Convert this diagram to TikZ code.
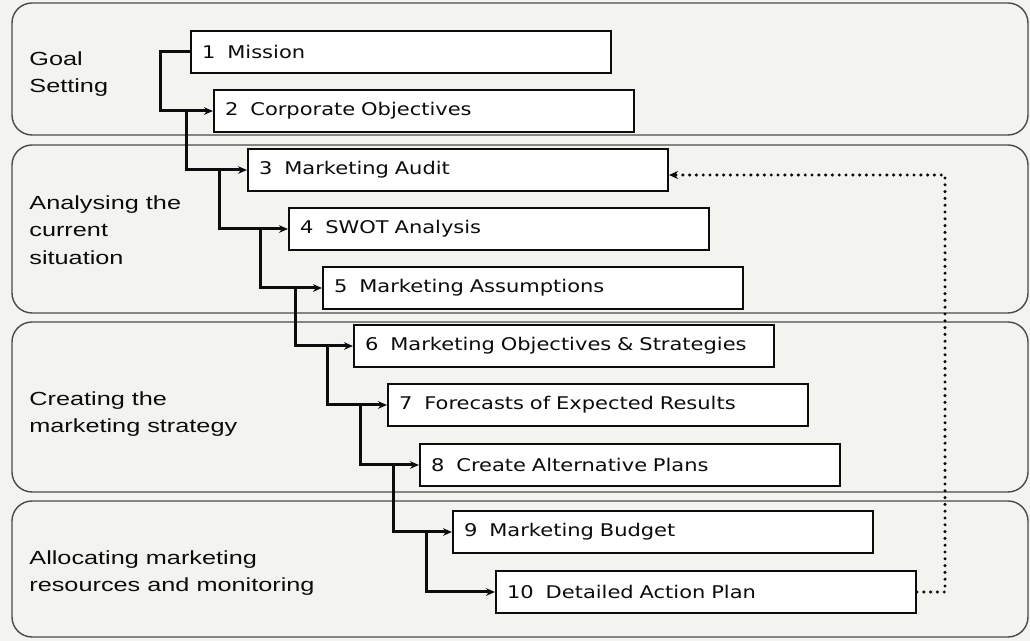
\documentclass[tikz,border=0pt]{standalone}
\usepackage{fontspec}
\setmainfont{Liberation Sans}
\newfontfamily\boxfont{DejaVu Sans}[FakeStretch=1.2]
\newfontfamily\bandfont{Liberation Sans}[FakeStretch=1.33]
\usetikzlibrary{calc,arrows.meta}

\definecolor{paper}{RGB}{243,243,240}
\definecolor{ink}{RGB}{12,12,12}
\definecolor{bandline}{RGB}{75,75,75}
\newcommand\numgap{\hspace{6pt}}

\begin{document}
\begin{tikzpicture}[x=0.5pt,y=-0.5pt,
  band/.style={draw=bandline, line width=0.7pt, rounded corners=10pt},
  stepbox/.style={draw=ink, line width=1pt, fill=white, anchor=north west,
    minimum width=210pt, minimum height=21pt, text width=199pt,
    inner xsep=5.5pt, inner ysep=0pt, align=left,
    font=\boxfont\fontsize{8.75}{10}\selectfont, text=ink},
  bandlabel/.style={anchor=west, align=left, inner sep=0pt,
    font=\bandfont\fontsize{9.5}{13.75}\selectfont, text=ink},
  conn/.style={draw=ink, line width=1.5pt, -{Stealth[length=4.5pt,width=3.8pt]}},
  feedback/.style={draw=ink, line width=1.7pt, line cap=round,
    dash pattern=on 0pt off 3.4pt, -{Stealth[length=4.5pt,width=4pt,open]}}]

% page and background
\fill[paper] (0,0) rectangle (1030,641);
\useasboundingbox (0,0) rectangle (1030,641);

% phase bands
\draw[band] (12,3)   rectangle (1028,135);
\draw[band] (12,145) rectangle (1028,313);
\draw[band] (12,322) rectangle (1028,492);
\draw[band] (12,501) rectangle (1028,637);

% phase labels
\node[bandlabel] (p1) at (29,74)  {Goal\\Setting};
\node[bandlabel] (p2) at (29,230) {Analysing the\\current\\situation};
\node[bandlabel] (p3) at (29,414) {Creating the\\marketing strategy};
\node[bandlabel] (p4) at (29,573) {Allocating marketing\\resources and monitoring};

% planning steps
\node[stepbox] (b1)  at (190,30)  {1\numgap Mission};
\node[stepbox] (b2)  at (213,89)  {2\numgap Corporate Objectives};
\node[stepbox] (b3)  at (247,148) {3\numgap Marketing Audit};
\node[stepbox] (b4)  at (288,207) {4\numgap SWOT Analysis};
\node[stepbox] (b5)  at (322,266) {5\numgap Marketing Assumptions};
\node[stepbox] (b6)  at (353,324) {6\numgap Marketing Objectives \& Strategies};
\node[stepbox] (b7)  at (387,383) {7\numgap Forecasts of Expected Results};
\node[stepbox] (b8)  at (419,443) {8\numgap Create Alternative Plans};
\node[stepbox] (b9)  at (452,510) {9\numgap Marketing Budget};
\node[stepbox] (b10) at (495,570) {10\numgap Detailed Action Plan};

% branch points on each incoming arrow
\coordinate (j2) at ($(b2.west)+(-27,0)$);
\coordinate (j3) at ($(b3.west)+(-28,0)$);
\coordinate (j4) at ($(b4.west)+(-28,0)$);
\coordinate (j5) at ($(b5.west)+(-27,0)$);
\coordinate (j6) at ($(b6.west)+(-26,0)$);
\coordinate (j7) at ($(b7.west)+(-27,0)$);
\coordinate (j8) at ($(b8.west)+(-26,0)$);
\coordinate (j9) at ($(b9.west)+(-26,0)$);

% step-to-step connectors
\draw[conn] (b1.west) -- ++(-30,0) |- (b2.west);
\draw[conn] (j2) |- (b3.west);
\draw[conn] (j3) |- (b4.west);
\draw[conn] (j4) |- (b5.west);
\draw[conn] (j5) |- (b6.west);
\draw[conn] (j6) |- (b7.west);
\draw[conn] (j7) |- (b8.west);
\draw[conn] (j8) |- (b9.west);
\draw[conn] (j9) |- (b10.west);

% feedback loop back to the audit
\coordinate (fb) at ($(b10.east)+(28,0)$);
\coordinate (fa) at ($(b3.east)+(0,5)$);
\draw[feedback] (b10.east) -- (fb) |- (fa);
\end{tikzpicture}
\end{document}
